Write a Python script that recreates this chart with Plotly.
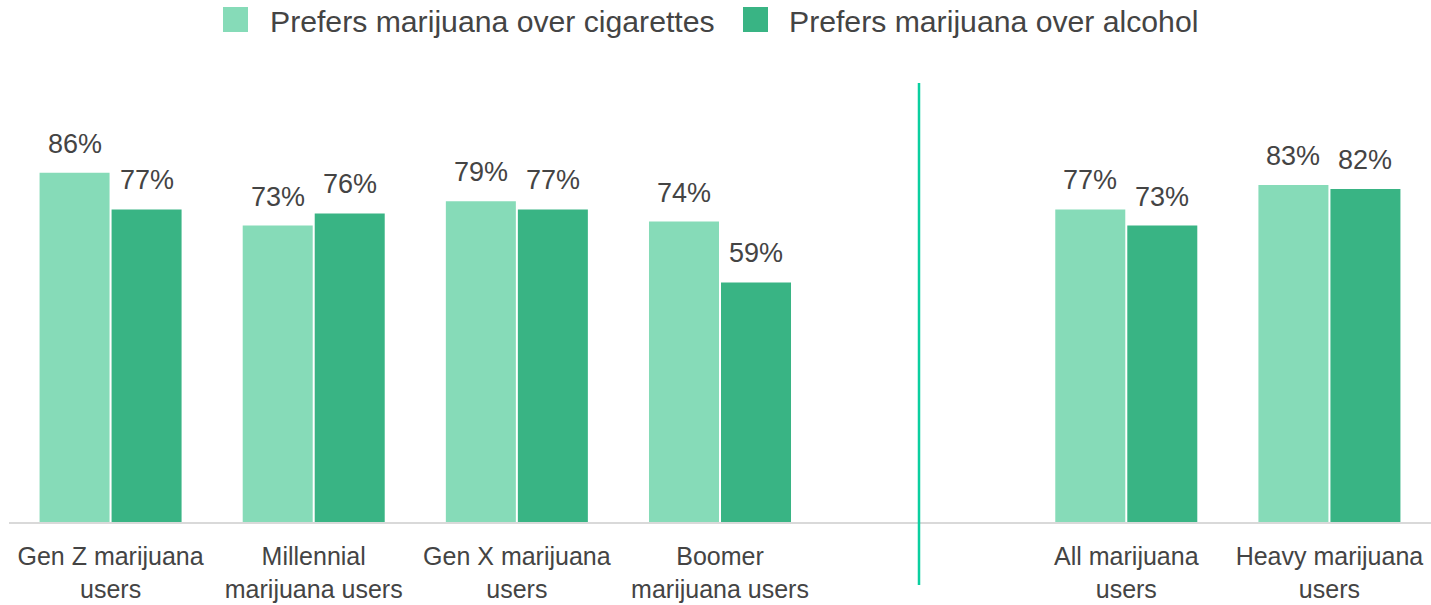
import plotly.graph_objects as go

categories = ["Gen Z marijuana<br>users", "Millennial<br>marijuana users", "Gen X marijuana<br>users",
              "Boomer<br>marijuana users", " ", "All marijuana<br>users", "Heavy marijuana<br>users"]
bar_categories = [c for c in categories if c.strip()]
cigarettes = [86, 73, 79, 74, 77, 83]
alcohol = [77, 76, 77, 59, 73, 82]
series_names = ["Prefers marijuana over cigarettes", "Prefers marijuana over alcohol"]

LIGHT = "#86DBB8"
DARK = "#39B484"
TEXT = "#444444"
FONT = "Liberation Sans, Arial, sans-serif"

# body margin is removed by post_script, so the figure starts at screen (0, 0)
W, H = 1431, 605
# plot area in screen pixels
PL, PR, PT, PB = 9, 1431, 80, 522
ML, MR, MT, MB = PL, W - PR, PT, H - PB
PW, PH = PR - PL, PB - PT

def px(x):
    return (x - PL) / PW

def py(y):
    return (PB - y) / PH

fig = go.Figure()
fig.add_trace(go.Bar(x=bar_categories, y=cigarettes, name=series_names[0], marker_color=LIGHT,
                     marker_line_width=0, showlegend=False))
fig.add_trace(go.Bar(x=bar_categories, y=alcohol, name=series_names[1], marker_color=DARK,
                     marker_line_width=0, showlegend=False))

annotations = []
for vals, shift in ((cigarettes, -36), (alcohol, 36)):
    for c, v in zip(bar_categories, vals):
        annotations.append(dict(x=c, y=v, xref="x", yref="y", text=f"{v}%", showarrow=False,
                                xshift=shift, yanchor="bottom", yshift=12,
                                font=dict(family=FONT, size=27, color=TEXT)))

# manual legend
legend_items = [(series_names[0], LIGHT, 223, 268), (series_names[1], DARK, 743, 787)]
shapes = []
for name, col, sx, tx in legend_items:
    shapes.append(dict(type="rect", xref="paper", yref="paper", x0=px(sx), x1=px(sx + 25),
                       y0=py(32), y1=py(7), fillcolor=col, line_width=0))
    annotations.append(dict(xref="paper", yref="paper", x=px(tx), y=py(21), xanchor="left",
                            yanchor="middle", text=name, showarrow=False,
                            font=dict(family=FONT, size=30.2, color=TEXT)))

shapes.append(dict(type="line", xref="paper", yref="paper", x0=px(919), x1=px(919),
                   y0=py(585), y1=py(83), line=dict(color="#0ACF9F", width=2.5)))

fig.update_layout(
    width=W, height=H, margin=dict(l=ML, r=MR, t=MT, b=MB, pad=0),
    paper_bgcolor="white", plot_bgcolor="white",
    barmode="group", bargap=0.291, bargroupgap=0.028,
    shapes=shapes, annotations=annotations,
    xaxis=dict(categoryorder="array", categoryarray=categories, range=[-0.5, 6.5],
               showline=True, linecolor="#D9D9D9", linewidth=2, ticks="", showgrid=False,
               ticklabelstandoff=11,
               tickfont=dict(family=FONT, size=25, color=TEXT), fixedrange=True),
    yaxis=dict(range=[0, PH / 4.06], showgrid=False, zeroline=False, showticklabels=False,
               fixedrange=True),
    font=dict(family=FONT, color=TEXT),
)

fig.write_html("out.html", config={"displayModeBar": False},
               post_script="document.body.style.margin='0';")
